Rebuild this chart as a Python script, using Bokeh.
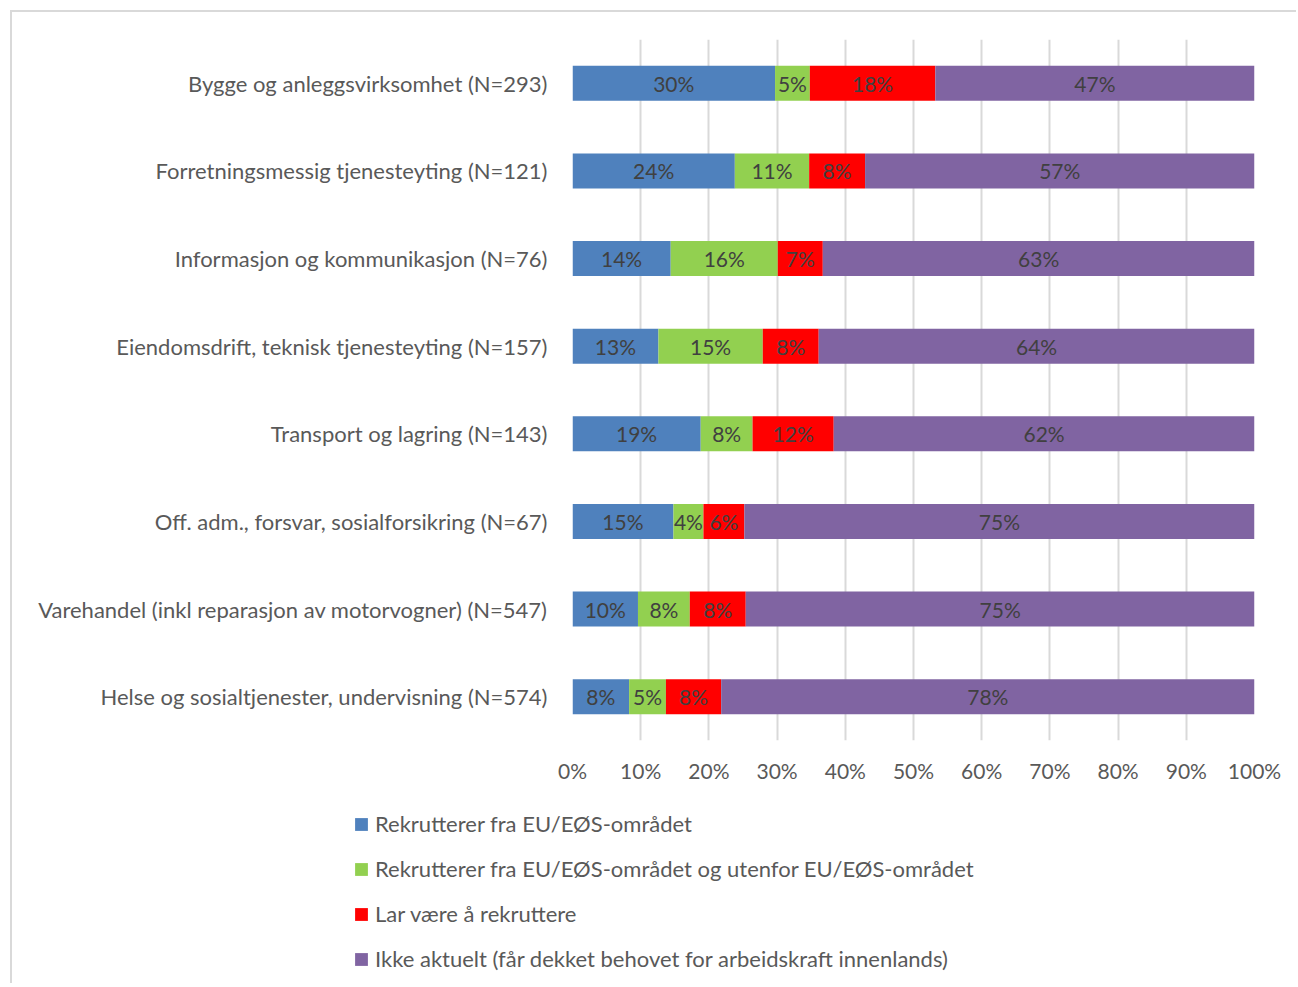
from bokeh.plotting import figure
from bokeh.models import (FactorRange, FixedTicker, PrintfTickFormatter, Legend, LegendItem,
                          ColumnDataSource)
from bokeh.core.properties import value
from bokeh.embed import file_html
from bokeh.resources import INLINE

categories = [
    "Bygge og anleggsvirksomhet (N=293)",
    "Forretningsmessig tjenesteyting (N=121)",
    "Informasjon og kommunikasjon (N=76)",
    "Eiendomsdrift, teknisk tjenesteyting (N=157)",
    "Transport og lagring (N=143)",
    "Off. adm., forsvar, sosialforsikring (N=67)",
    "Varehandel (inkl reparasjon av motorvogner) (N=547)",
    "Helse og sosialtjenester, undervisning (N=574)",
]
eu = [29.7, 23.8, 14.4, 12.6, 18.8, 14.8, 9.6, 8.3]
eu_and_outside = [5.1, 10.9, 15.7, 15.3, 7.6, 4.4, 7.6, 5.4]
abstain = [18.4, 8.2, 6.6, 8.2, 11.9, 6.0, 8.2, 8.1]
not_relevant = [46.8, 57.1, 63.3, 63.9, 61.7, 74.8, 74.6, 78.2]

series_names = [
    "Rekrutterer fra EU/EØS-området",
    "Rekrutterer fra EU/EØS-området og utenfor EU/EØS-området",
    "Lar være å rekruttere",
    "Ikke aktuelt (får dekket behovet for arbeidskraft innenlands)",
]
colors = ["#4F81BD", "#92D050", "#FF0000", "#8064A2"]
ticks = [0, 10, 20, 30, 40, 50, 60, 70, 80, 90, 100]

FONT = "Lato"
TEXT_COLOR = "#595959"
BORDER = "2px solid #D9D9D9"
keys = ["eu", "both", "abstain", "notrel"]
series = [eu, eu_and_outside, abstain, not_relevant]
data = {"cat": categories}
for k, s in zip(keys, series):
    data[k] = s
src = ColumnDataSource(data)

p = figure(width=1286, height=788, output_backend="svg", toolbar_location=None,
           y_range=FactorRange(*reversed(categories), range_padding=0),
           x_range=(0, 100),
           min_border_left=560, min_border_right=44, min_border_top=27, min_border_bottom=60)
p.margin = (10, 0, 0, 10)
p.styles = {"border-left": BORDER, "border-top": BORDER}
p.outline_line_color = None
p.background_fill_color = "white"
p.border_fill_color = "white"

renderers = p.hbar_stack(keys, y="cat", height=0.4, color=colors, source=src, line_color=None)

# data labels
for i, k in enumerate(keys):
    centers = []
    for j in range(len(categories)):
        left = sum(series[m][j] for m in range(i))
        centers.append(left + series[i][j] / 2)
    texts = [f"{round(v):d}%" for v in series[i]]
    p.text(x=centers, y=categories, text=texts, text_align="center", text_baseline="middle",
           text_color="#404040", text_font=value(FONT), text_font_size="21px")

p.xgrid.ticker = FixedTicker(ticks=ticks)
p.xgrid.grid_line_color = "#D9D9D9"
p.xgrid.grid_line_width = 2
p.ygrid.grid_line_color = None

p.xaxis.ticker = FixedTicker(ticks=ticks)
p.xaxis.formatter = PrintfTickFormatter(format="%d%%")
p.xaxis.axis_line_color = None
p.xaxis.major_tick_line_color = None
p.xaxis.minor_tick_line_color = None
p.xaxis.major_label_text_font = FONT
p.xaxis.major_label_text_font_size = "21px"
p.xaxis.major_label_text_color = TEXT_COLOR
p.xaxis.major_label_standoff = 11

p.yaxis.axis_line_color = None
p.yaxis.major_tick_line_color = None
p.yaxis.minor_tick_line_color = None
p.yaxis.major_label_text_font = FONT
p.yaxis.major_label_text_font_size = "22px"
p.yaxis.major_label_text_color = TEXT_COLOR
p.yaxis.major_label_standoff = 19

# legend panel (separate canvas below the chart)
pl = figure(width=1286, height=185, output_backend="svg", toolbar_location=None,
            x_range=(0, 1), y_range=(0, 1),
            min_border_left=0, min_border_right=0, min_border_top=0, min_border_bottom=0)
pl.margin = (0, 0, 0, 10)
pl.styles = {"border-left": BORDER}
pl.outline_line_color = None
pl.axis.visible = False
pl.grid.visible = False
pl.background_fill_color = "white"
pl.border_fill_color = "white"
leg_renderers = [pl.hbar(y=[-5], left=[-5], right=[-4], height=0.4, color=c, line_color=None)
                 for c in colors]
legend = Legend(items=[LegendItem(label=n, renderers=[r]) for n, r in zip(series_names, leg_renderers)],
                location=(341, 11), orientation="vertical",
                glyph_width=16, glyph_height=16, label_height=26, label_text_font=FONT,
                label_text_font_size="22px", label_text_color=TEXT_COLOR,
                spacing=18, padding=0, margin=0, border_line_color=None,
                background_fill_alpha=0, label_standoff=6)
pl.add_layout(legend, "center")

open("out.html", "w").write(file_html([p, pl], INLINE))
